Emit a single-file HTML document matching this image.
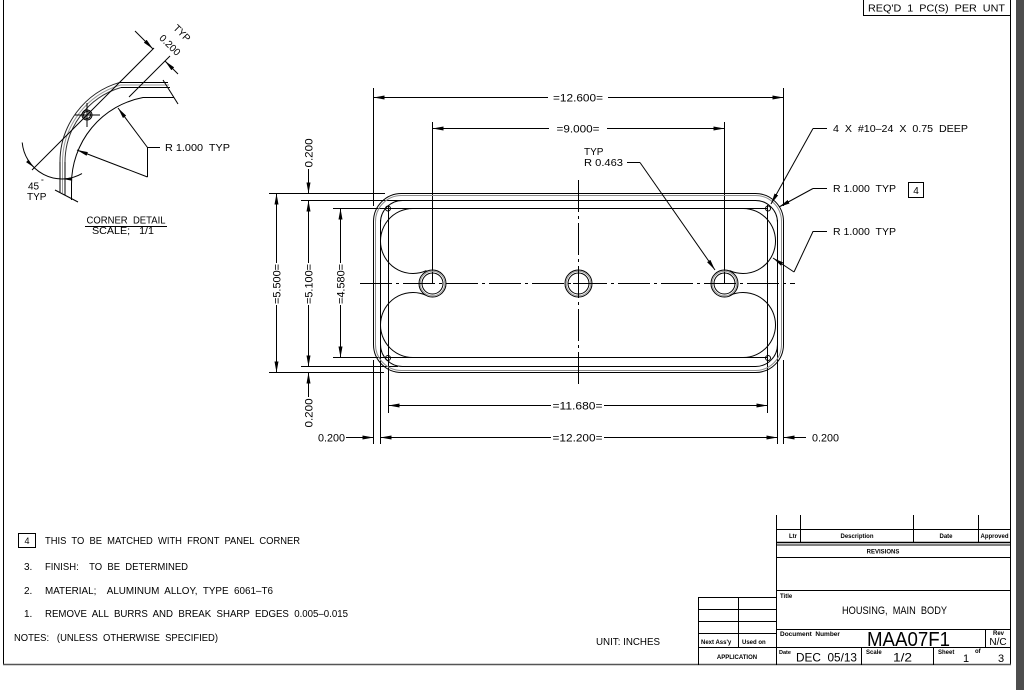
<!DOCTYPE html>
<html><head><meta charset="utf-8"><style>
html,body{margin:0;padding:0;background:#fff;}
svg{display:block;}
text{white-space:pre;font-family:"Liberation Sans",Arial,sans-serif;fill:#000;}
</style></head><body>
<svg width="1024" height="690" viewBox="0 0 1024 690" xmlns="http://www.w3.org/2000/svg">
<defs>
<marker id="ar" viewBox="-11 -2.1 11 4.2" refX="0" refY="0" markerWidth="11" markerHeight="4.2" markerUnits="userSpaceOnUse" orient="auto"><path d="M0,0 L-11,-2 L-11,2 z" fill="#000"/></marker>
</defs>
<rect width="1024" height="690" fill="#fff"/>

<!-- border -->
<g stroke="#000" stroke-width="1" fill="none">
<line x1="3.5" y1="0" x2="3.5" y2="664"/>
<line x1="1010.5" y1="0" x2="1010.5" y2="665"/>
<path d="M863.5,0 V15.5 H1010"/>
</g>
<line x1="3" y1="664.5" x2="1011" y2="664.5" stroke="#555" stroke-width="1.6"/>
<rect x="1016" y="0" width="8" height="690" fill="#4d4d4d"/>
<text x="868" y="11.5" font-size="10" textLength="137" lengthAdjust="spacingAndGlyphs">REQ'D  1  PC(S)  PER  UNT</text>

<!-- ===== CORNER DETAIL ===== -->
<g fill="none" stroke="#000" stroke-width="1">
<path d="M60,162 A83,83 0 0,1 120,82.3" stroke="#222"/>
<path d="M62.5,162 A80.5,80.5 0 0,1 121,84.9" stroke="#999"/>
<path d="M65,162 A78,78 0 0,1 121,87.5" stroke="#333"/>
<line x1="60" y1="162" x2="60" y2="193"/>
<line x1="62.5" y1="162" x2="62.5" y2="193" stroke="#999"/>
<line x1="65" y1="162" x2="65" y2="195"/>
<line x1="120" y1="82.5" x2="168" y2="82.5"/>
<line x1="121" y1="85" x2="169" y2="85" stroke="#999"/>
<line x1="121" y1="87.5" x2="170" y2="87.5"/>
<line x1="163" y1="80" x2="178" y2="104"/>
<path d="M71.5,200 V184 A88,88 0 0,1 143,97.5 H174"/>
<line x1="55" y1="190" x2="78" y2="202"/>
<circle cx="87" cy="115" r="5"/>
<circle cx="87" cy="115" r="3.5"/>
<line x1="75" y1="115" x2="100" y2="115"/>
<line x1="87" y1="103" x2="87" y2="127"/>
<line x1="32" y1="170" x2="154" y2="48"/>
<line x1="129" y1="97" x2="170" y2="56"/>
<line x1="135" y1="31" x2="153" y2="49" marker-end="url(#ar)"/>
<line x1="178" y1="74" x2="165" y2="61" marker-end="url(#ar)"/>
<path d="M22.2,142.5 A40,40 0 0,0 82,173.6"/>
<!-- R 1.000 leader -->
<line x1="160" y1="147.5" x2="147.5" y2="147.5"/>
<line x1="147.5" y1="147.5" x2="147.5" y2="177"/>
<line x1="147.5" y1="147.5" x2="118" y2="108" marker-end="url(#ar)"/>
<line x1="147.5" y1="177" x2="77" y2="150" marker-end="url(#ar)"/>
<line x1="85" y1="226.5" x2="167" y2="226.5"/>
</g>
<path d="M33.7,167.3 L26.1,162.1 L28.5,159.7 z" fill="#000"/>
<path d="M63,179 L72,177.3 L72,180.7 z" fill="#000"/>
<text font-size="10" transform="translate(182,33) rotate(45)" text-anchor="middle" dy="3.5">TYP</text>
<text font-size="10" transform="translate(170,45) rotate(45)" text-anchor="middle" dy="3.5">0.200</text>
<text x="28" y="189.5" font-size="10">45</text>
<text x="41" y="184" font-size="7">°</text>
<text x="27" y="200" font-size="10">TYP</text>
<text x="165" y="151" font-size="10" textLength="65" lengthAdjust="spacingAndGlyphs">R 1.000  TYP</text>
<text x="126" y="223.5" font-size="10" text-anchor="middle" textLength="79" lengthAdjust="spacingAndGlyphs">CORNER  DETAIL</text>
<text x="92" y="234" font-size="10" textLength="62" lengthAdjust="spacingAndGlyphs">SCALE;   1/1</text>

<!-- ===== MAIN VIEW ===== -->
<g fill="none" stroke="#000" stroke-width="1">
<!-- 12.600 -->
<line x1="373.5" y1="88" x2="373.5" y2="206"/>
<line x1="783.5" y1="88" x2="783.5" y2="206"/>
<line x1="548" y1="97.5" x2="373.5" y2="97.5" marker-end="url(#ar)"/>
<line x1="608" y1="97.5" x2="783.5" y2="97.5" marker-end="url(#ar)"/>
<!-- 9.000 -->
<line x1="432.5" y1="122" x2="432.5" y2="283"/>
<line x1="724.5" y1="122" x2="724.5" y2="283"/>
<line x1="549" y1="128.5" x2="432.5" y2="128.5" marker-end="url(#ar)"/>
<line x1="607" y1="128.5" x2="724.5" y2="128.5" marker-end="url(#ar)"/>
<!-- horizontal ext lines left -->
<line x1="269" y1="193.5" x2="385" y2="193.5"/>
<line x1="301" y1="200.5" x2="402" y2="200.5"/>
<line x1="333" y1="208.5" x2="767.5" y2="208.5"/>
<line x1="333" y1="357.5" x2="767.5" y2="357.5"/>
<line x1="301" y1="366.5" x2="398" y2="366.5"/>
<line x1="269" y1="372.5" x2="384" y2="372.5"/>
<!-- 5.500 -->
<line x1="276.5" y1="263" x2="276.5" y2="193.5" marker-end="url(#ar)"/>
<line x1="276.5" y1="305" x2="276.5" y2="372.5" marker-end="url(#ar)"/>
<!-- 5.100 -->
<line x1="308.5" y1="263" x2="308.5" y2="200.5" marker-end="url(#ar)"/>
<line x1="308.5" y1="305" x2="308.5" y2="366.5" marker-end="url(#ar)"/>
<line x1="308.5" y1="169" x2="308.5" y2="193.5" marker-end="url(#ar)"/>
<line x1="308.5" y1="397" x2="308.5" y2="372.5" marker-end="url(#ar)"/>
<!-- 4.580 -->
<line x1="340.5" y1="263" x2="340.5" y2="208.5" marker-end="url(#ar)"/>
<line x1="340.5" y1="305" x2="340.5" y2="357.5" marker-end="url(#ar)"/>
<!-- bottom ext lines -->
<line x1="388.5" y1="205" x2="388.5" y2="413"/>
<line x1="767.5" y1="205" x2="767.5" y2="413"/>
<line x1="380.5" y1="220" x2="380.5" y2="444"/>
<line x1="777.5" y1="220" x2="777.5" y2="444"/>
<line x1="373.5" y1="360" x2="373.5" y2="444"/>
<line x1="783.5" y1="360" x2="783.5" y2="444"/>
<!-- 11.680 -->
<line x1="551" y1="405.5" x2="388.5" y2="405.5" marker-end="url(#ar)"/>
<line x1="604" y1="405.5" x2="767.5" y2="405.5" marker-end="url(#ar)"/>
<!-- 12.200 -->
<line x1="551" y1="437.5" x2="380.5" y2="437.5" marker-end="url(#ar)"/>
<line x1="604" y1="437.5" x2="777.5" y2="437.5" marker-end="url(#ar)"/>
<line x1="346" y1="437.5" x2="373.5" y2="437.5" marker-end="url(#ar)"/>
<line x1="806" y1="437.5" x2="783.5" y2="437.5" marker-end="url(#ar)"/>
<!-- body -->
<rect x="373.5" y="193.5" width="410" height="179" rx="28"/>
<rect x="375.5" y="195.5" width="406" height="175" rx="26" stroke="#8a8a8a"/>
<rect x="380.5" y="200.5" width="397" height="166" rx="22"/>
<!-- lobes -->
<path d="M413,208.5 A32.5,32.5 0 1,0 426.4,270.6"/>
<path d="M426.4,295.4 A32.5,32.5 0 1,0 413,357.5"/>
<path d="M743,208.5 A32.5,32.5 0 1,1 729.6,270.6"/>
<path d="M729.6,295.4 A32.5,32.5 0 1,1 743,357.5"/>
<!-- holes -->
<circle cx="432.5" cy="283.5" r="13.5"/>
<circle cx="432.5" cy="283.5" r="12.3" stroke="#999"/>
<circle cx="432.5" cy="283.5" r="10.5"/>
<circle cx="578.5" cy="283.5" r="13.5"/>
<circle cx="578.5" cy="283.5" r="12.3" stroke="#999"/>
<circle cx="578.5" cy="283.5" r="10.5"/>
<circle cx="724.5" cy="283.5" r="13.5"/>
<circle cx="724.5" cy="283.5" r="12.3" stroke="#999"/>
<circle cx="724.5" cy="283.5" r="10.5"/>
<!-- tapped holes -->
<circle cx="388" cy="208.5" r="2.5"/>
<circle cx="768" cy="208.5" r="2.5"/>
<circle cx="388" cy="358" r="2.5"/>
<circle cx="768" cy="358" r="2.5"/>
<!-- center lines -->
<line x1="360" y1="283.5" x2="795" y2="283.5" stroke-dasharray="32 4 3 4"/>
<line x1="578.5" y1="180" x2="578.5" y2="385" stroke-dasharray="32 4 3 4"/>
<line x1="573" y1="283.5" x2="584" y2="283.5"/>
<line x1="578.5" y1="278" x2="578.5" y2="289"/>
<!-- leaders right -->
<polyline points="827,128.5 813,128.5"/>
<line x1="813" y1="128.5" x2="771" y2="204" marker-end="url(#ar)"/>
<polyline points="827,188.5 813,188.5"/>
<line x1="813" y1="188.5" x2="779" y2="207" marker-end="url(#ar)"/>
<rect x="908.5" y="182.5" width="15" height="15"/>
<polyline points="827,231.5 813,231.5 794,272"/>
<line x1="794" y1="272" x2="773" y2="258" marker-end="url(#ar)"/>
<polyline points="627,162.5 640,162.5"/>
<line x1="640" y1="162.5" x2="715" y2="270" marker-end="url(#ar)"/>
</g>
<g font-size="11">
<text x="578" y="101.5" text-anchor="middle" textLength="50" lengthAdjust="spacingAndGlyphs">=12.600=</text>
<text x="578" y="132.5" text-anchor="middle" textLength="43" lengthAdjust="spacingAndGlyphs">=9.000=</text>
<text x="577.5" y="409.5" text-anchor="middle" textLength="50" lengthAdjust="spacingAndGlyphs">=11.680=</text>
<text x="577.5" y="441.5" text-anchor="middle" textLength="50" lengthAdjust="spacingAndGlyphs">=12.200=</text>
<text x="318" y="441.5" textLength="27" lengthAdjust="spacingAndGlyphs">0.200</text>
<text x="812" y="441.5" textLength="27" lengthAdjust="spacingAndGlyphs">0.200</text>
<text transform="translate(276.5,284) rotate(-90)" text-anchor="middle" dy="4" textLength="40" lengthAdjust="spacingAndGlyphs">=5.500=</text>
<text transform="translate(308.5,284) rotate(-90)" text-anchor="middle" dy="4" textLength="40" lengthAdjust="spacingAndGlyphs">=5.100=</text>
<text transform="translate(340.5,284) rotate(-90)" text-anchor="middle" dy="4" textLength="40" lengthAdjust="spacingAndGlyphs">=4.580=</text>
<text transform="translate(308.5,153) rotate(-90)" text-anchor="middle" dy="4" textLength="29" lengthAdjust="spacingAndGlyphs">0.200</text>
<text transform="translate(308.5,413) rotate(-90)" text-anchor="middle" dy="4" textLength="29" lengthAdjust="spacingAndGlyphs">0.200</text>
</g>
<g font-size="10">
<text x="584" y="155">TYP</text>
<text x="584" y="166" textLength="39" lengthAdjust="spacingAndGlyphs">R 0.463</text>
<text x="833" y="132" textLength="135" lengthAdjust="spacingAndGlyphs">4  X  #10–24  X  0.75  DEEP</text>
<text x="833" y="192" textLength="63" lengthAdjust="spacingAndGlyphs">R 1.000  TYP</text>
<text x="916" y="194" text-anchor="middle">4</text>
<text x="833" y="235" textLength="63" lengthAdjust="spacingAndGlyphs">R 1.000  TYP</text>
</g>

<!-- ===== NOTES ===== -->
<rect x="18.5" y="533.5" width="17" height="14" fill="none" stroke="#000"/>
<g font-size="10">
<text x="27" y="544" text-anchor="middle" font-size="9">4</text>
<text x="45" y="544" textLength="255" lengthAdjust="spacingAndGlyphs">THIS  TO  BE  MATCHED  WITH  FRONT  PANEL  CORNER</text>
<text x="24" y="570">3.</text>
<text x="45" y="570" textLength="143" lengthAdjust="spacingAndGlyphs">FINISH:    TO  BE  DETERMINED</text>
<text x="24" y="594">2.</text>
<text x="45" y="594" textLength="228" lengthAdjust="spacingAndGlyphs">MATERIAL;    ALUMINUM  ALLOY,  TYPE  6061–T6</text>
<text x="24" y="617">1.</text>
<text x="45" y="617" textLength="303" lengthAdjust="spacingAndGlyphs">REMOVE  ALL  BURRS  AND  BREAK  SHARP  EDGES  0.005–0.015</text>
<text x="14" y="641" textLength="204" lengthAdjust="spacingAndGlyphs">NOTES:   (UNLESS  OTHERWISE  SPECIFIED)</text>
<text x="596" y="645" textLength="64" lengthAdjust="spacingAndGlyphs">UNIT: INCHES</text>
</g>

<!-- ===== TITLE BLOCK ===== -->
<g fill="none" stroke="#000" stroke-width="1">
<line x1="776.5" y1="515" x2="776.5" y2="665"/>
<line x1="800.5" y1="515" x2="800.5" y2="542"/>
<line x1="913.5" y1="515" x2="913.5" y2="542"/>
<line x1="978.5" y1="515" x2="978.5" y2="542"/>
<line x1="776" y1="529.5" x2="1010" y2="529.5"/>
<line x1="776" y1="542.5" x2="1010" y2="542.5" stroke-width="1.4"/>
<line x1="776" y1="545" x2="1010" y2="545"/>
<line x1="776" y1="557.5" x2="1010" y2="557.5"/>
<line x1="776" y1="590.5" x2="1010" y2="590.5"/>
<line x1="776" y1="629.5" x2="1010" y2="629.5"/>
<line x1="776" y1="647.5" x2="1010" y2="647.5"/>
<line x1="985.5" y1="629.5" x2="985.5" y2="647.5"/>
<line x1="861.5" y1="647.5" x2="861.5" y2="665"/>
<line x1="933.5" y1="647.5" x2="933.5" y2="665"/>
<!-- application -->
<line x1="698.5" y1="597" x2="698.5" y2="665"/>
<line x1="738.5" y1="597" x2="738.5" y2="647.5"/>
<line x1="698" y1="597.5" x2="776" y2="597.5"/>
<line x1="698" y1="609.5" x2="776" y2="609.5"/>
<line x1="698" y1="621.5" x2="776" y2="621.5"/>
<line x1="698" y1="633.5" x2="776" y2="633.5"/>
<line x1="698" y1="647.5" x2="776" y2="647.5"/>
</g>
<g font-size="6" font-weight="bold">
<text x="789" y="538">Ltr</text>
<text x="857" y="538" text-anchor="middle">Description</text>
<text x="946" y="538" text-anchor="middle">Date</text>
<text x="994.5" y="538" text-anchor="middle">Approved</text>
<text x="883" y="553.5" text-anchor="middle">REVISIONS</text>
<text x="780" y="598">Title</text>
<text x="780" y="636" font-size="6.5">Document  Number</text>
<text x="993" y="635">Rev</text>
<text x="779" y="654" font-size="5.5">Date</text>
<text x="866" y="654">Scale</text>
<text x="938" y="654">Sheet</text>
<text x="975" y="653">of</text>
<text x="701" y="644">Next Ass'y</text>
<text x="742" y="644">Used on</text>
<text x="737" y="659" text-anchor="middle">APPLICATION</text>
</g>
<text x="842" y="614" font-size="11" textLength="105" lengthAdjust="spacingAndGlyphs">HOUSING,  MAIN  BODY</text>
<text x="867" y="646" font-size="20" textLength="83" lengthAdjust="spacingAndGlyphs" fill="#222">MAA07F1</text>
<text x="998" y="645" font-size="10" text-anchor="middle">N/C</text>
<text x="796" y="661.5" font-size="12" textLength="61" lengthAdjust="spacingAndGlyphs">DEC  05/13</text>
<text x="893" y="661.5" font-size="12" textLength="19" lengthAdjust="spacingAndGlyphs">1/2</text>
<text x="963" y="662" font-size="11">1</text>
<text x="998" y="662" font-size="11">3</text>
</svg>
</body></html>
